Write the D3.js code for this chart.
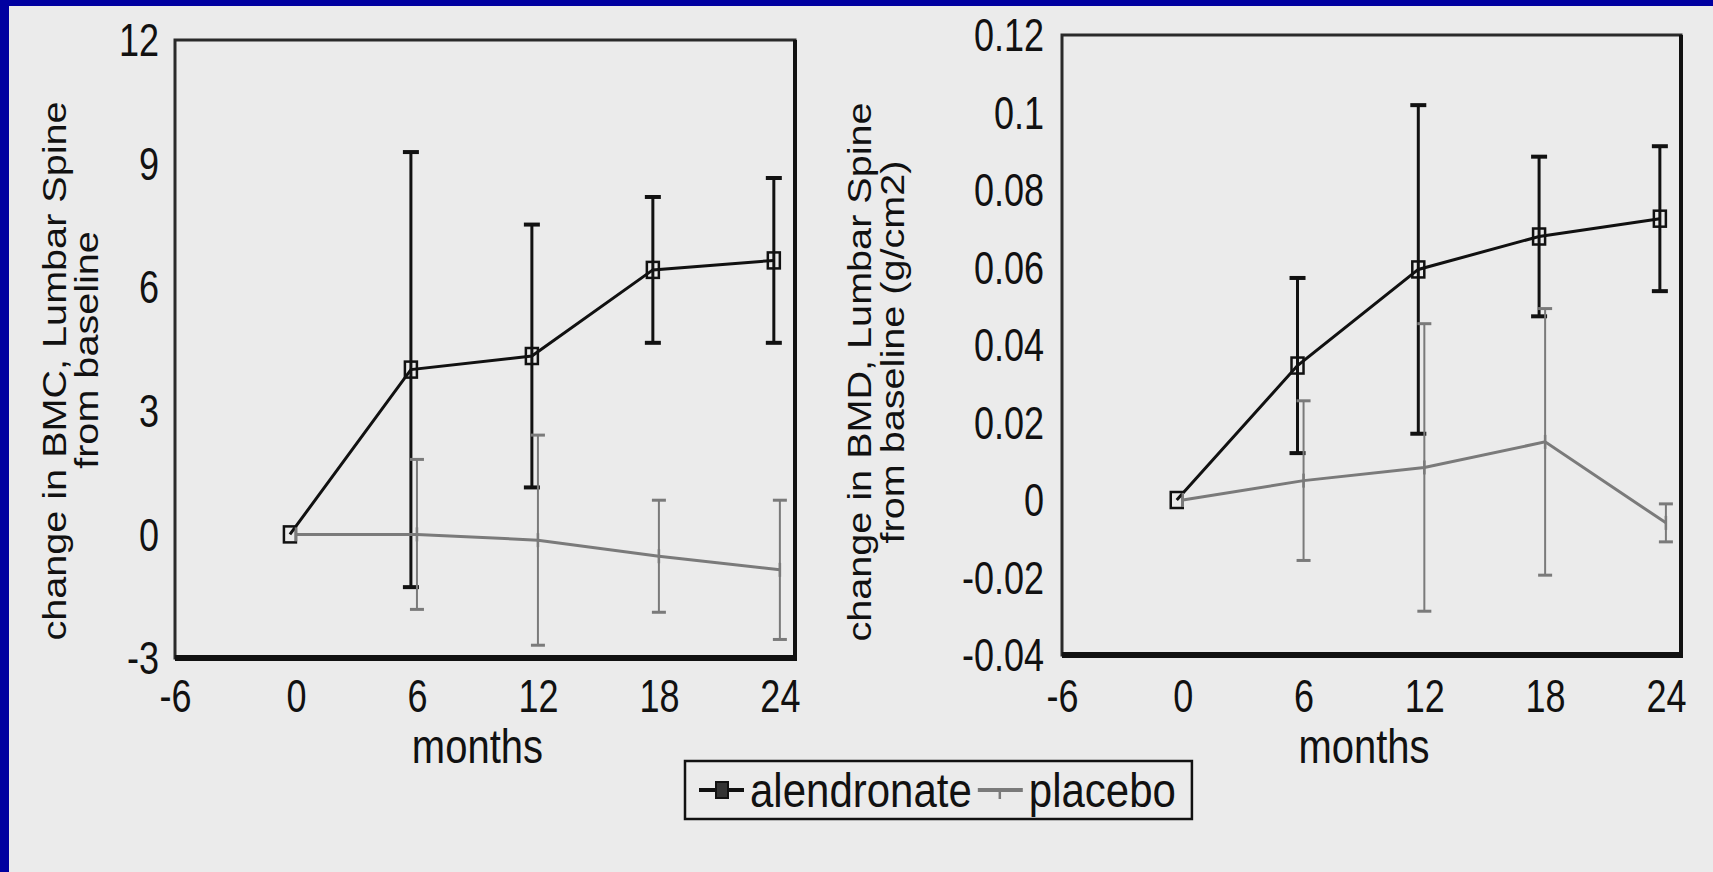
<!DOCTYPE html>
<html>
<head>
<meta charset="utf-8">
<script src="https://cdn.jsdelivr.net/npm/d3@7"></script>
<style>
  body { margin: 0; background: #ebebeb; }
  svg { display: block; font-family: "Liberation Sans", Arial, sans-serif; }
</style>
</head>
<body>
<div id="chart"></div>
<script>
// data (mean and error bar half-length)
var months = [0, 6, 12, 18, 24];
var xTicks = [-6, 0, 6, 12, 18, 24];

var bmcAlendronate    = [0, 4.0, 4.33, 6.42, 6.65];
var bmcAlendronateErr = [0, 5.28, 3.19, 1.77, 2.0];
var bmcPlacebo        = [0, 0.0, -0.14, -0.53, -0.86];
var bmcPlaceboErr     = [0, 1.82, 2.55, 1.36, 1.69];
var bmcTicks = [-3, 0, 3, 6, 9, 12];

var bmdAlendronate    = [0, 0.0347, 0.0595, 0.068, 0.0726];
var bmdAlendronateErr = [0, 0.0226, 0.0424, 0.0206, 0.0187];
var bmdPlacebo        = [0, 0.005, 0.0084, 0.015, -0.0059];
var bmdPlaceboErr     = [0, 0.0206, 0.0371, 0.0344, 0.0049];
var bmdTicks = [-0.04, -0.02, 0, 0.02, 0.04, 0.06, 0.08, 0.1, 0.12];

var seriesNames = ["alendronate", "placebo"];

var W = 1713, H = 872;
var svg = d3.select("#chart").append("svg").attr("width", W).attr("height", H);
svg.append("rect").attr("width", W).attr("height", H).attr("fill", "#ebebeb");
svg.append("rect").attr("width", W).attr("height", 6).attr("fill", "#0000a0");
svg.append("rect").attr("width", 9).attr("height", H).attr("fill", "#0000a0");

var styles = {
    alendronate: { color: "#111", width: 3, barWidth: 3, cap: 16, capWidth: 4, shift: -0.3 },
    placebo:     { color: "#7a7a7a", width: 3, barWidth: 2, cap: 14, capWidth: 3, shift: 0 }
};

var TEXT_SY = 1.28; // the source figure's lettering is tall and narrow

// move each label's position into a transform so it can be stretched vertically
function stretchText(sel, dy, sy) {
    sel.each(function() {
        var t = d3.select(this);
        var tx = +t.attr("x") || 0;
        t.attr("x", 0).attr("y", 0).attr("dy", null)
            .attr("dominant-baseline", "central")
            .attr("transform", "translate(" + tx + "," + dy + ") scale(1," + sy + ")");
    });
}

function drawPanel(p) {
    var x = d3.scaleLinear().domain([-6, 24.75]).range([p.x0, p.x1]);
    var y = d3.scaleLinear().domain(p.yDomain).range([p.y1, p.y0]);
    var g = svg.append("g");

    // y axis labels
    g.append("g")
        .attr("transform", "translate(" + p.x0 + ",0)")
        .call(d3.axisLeft(y).tickValues(p.yTicks).tickSize(0).tickPadding(p.yPad)
            .tickFormat(function(d) { return String(+d.toFixed(2)); }))
        .call(function(a) { a.select(".domain").remove(); })
        .selectAll("text")
            .style("font-size", "36px")
            .attr("fill", "#111")
            .call(stretchText, 0, TEXT_SY);

    // x axis labels
    g.append("g")
        .attr("transform", "translate(0," + p.y1 + ")")
        .call(d3.axisBottom(x).tickValues(xTicks).tickSize(0)
            .tickFormat(function(d) { return String(d); }))
        .call(function(a) { a.select(".domain").remove(); })
        .selectAll("text")
            .style("font-size", "36px")
            .attr("fill", "#111")
            .call(stretchText, 696 - p.y1, TEXT_SY);

    g.append("text")
        .attr("text-anchor", "middle")
        .attr("dominant-baseline", "central")
        .attr("transform", "translate(" + x(9) + ",746) scale(1,1.2)")
        .style("font-size", "40px")
        .attr("fill", "#111")
        .text("months");

    // rotated titles: stretched along the text, like the source
    p.titles.forEach(function(t) {
        g.append("text")
            .attr("transform", "translate(" + t.x + "," + t.cy + ") rotate(-90) scale(1.2,1)")
            .attr("text-anchor", "middle")
            .attr("dominant-baseline", "central")
            .style("font-size", "33px")
            .attr("fill", "#111")
            .text(t.text);
    });

    // plot frame
    g.append("rect")
        .attr("x", p.x0).attr("y", p.y0)
        .attr("width", p.x1 - p.x0).attr("height", p.y1 - p.y0)
        .attr("fill", "none").attr("stroke", "#2a2a2a").attr("stroke-width", 3);
    g.append("line")
        .attr("x1", p.x0).attr("x2", p.x1 + 2).attr("y1", p.y1).attr("y2", p.y1)
        .attr("stroke", "#111").attr("stroke-width", 6);
    g.append("line")
        .attr("x1", p.x1).attr("x2", p.x1).attr("y1", p.y0).attr("y2", p.y1)
        .attr("stroke", "#111").attr("stroke-width", 4);

    p.series.forEach(function(s) {
        var st = styles[s.name];
        var pts = months.map(function(m, i) {
            return { m: m + st.shift, v: s.values[i], e: s.errors[i] };
        });
        var withErr = pts.filter(function(d) { return d.e > 0; });

        g.selectAll(null).data(withErr).enter().append("line")
            .attr("x1", function(d) { return x(d.m); })
            .attr("x2", function(d) { return x(d.m); })
            .attr("y1", function(d) { return y(d.v + d.e); })
            .attr("y2", function(d) { return y(d.v - d.e); })
            .attr("stroke", st.color).attr("stroke-width", st.barWidth);
        [1, -1].forEach(function(sign) {
            g.selectAll(null).data(withErr).enter().append("line")
                .attr("x1", function(d) { return x(d.m) - st.cap / 2; })
                .attr("x2", function(d) { return x(d.m) + st.cap / 2; })
                .attr("y1", function(d) { return y(d.v + sign * d.e); })
                .attr("y2", function(d) { return y(d.v + sign * d.e); })
                .attr("stroke", st.color).attr("stroke-width", st.capWidth);
        });

        g.append("path")
            .datum(pts)
            .attr("fill", "none")
            .attr("stroke", st.color)
            .attr("stroke-width", st.width)
            .attr("d", d3.line().x(function(d) { return x(d.m); }).y(function(d) { return y(d.v); }));

        if (s.name === "alendronate") {
            g.selectAll(null).data(pts).enter().append("rect")
                .attr("x", function(d) { return x(d.m) - 6; })
                .attr("y", function(d) { return y(d.v) - 8; })
                .attr("width", 12).attr("height", 16)
                .attr("fill", "none").attr("stroke", st.color).attr("stroke-width", 2.5);
        } else {
            g.selectAll(null).data(pts).enter().append("line")
                .attr("x1", function(d) { return x(d.m); })
                .attr("x2", function(d) { return x(d.m); })
                .attr("y1", function(d) { return y(d.v) - 7; })
                .attr("y2", function(d) { return y(d.v) + 7; })
                .attr("stroke", st.color).attr("stroke-width", 2.5);
        }
    });
}

drawPanel({
    x0: 175, x1: 795, y0: 40, y1: 658, yPad: 16,
    yDomain: [-3, 12], yTicks: bmcTicks,
    titles: [
        { text: "change in BMC, Lumbar Spine", x: 55, cy: 371 },
        { text: "from baseline", x: 87, cy: 350 }
    ],
    series: [
        { name: "alendronate", values: bmcAlendronate, errors: bmcAlendronateErr },
        { name: "placebo", values: bmcPlacebo, errors: bmcPlaceboErr }
    ]
});

drawPanel({
    x0: 1062, x1: 1681, y0: 35, y1: 655, yPad: 18,
    yDomain: [-0.04, 0.12], yTicks: bmdTicks,
    titles: [
        { text: "change in BMD, Lumbar Spine", x: 860, cy: 372 },
        { text: "from baseline (g/cm2)", x: 893, cy: 352 }
    ],
    series: [
        { name: "alendronate", values: bmdAlendronate, errors: bmdAlendronateErr },
        { name: "placebo", values: bmdPlacebo, errors: bmdPlaceboErr }
    ]
});

// legend
var legend = svg.append("g").attr("transform", "translate(685,761)");
var box = legend.append("rect")
    .attr("height", 58)
    .attr("fill", "none").attr("stroke", "#111").attr("stroke-width", 2.5);
var cx = 14;
seriesNames.forEach(function(name) {
    var st = styles[name];
    legend.append("line")
        .attr("x1", cx).attr("x2", cx + 45).attr("y1", 29).attr("y2", 29)
        .attr("stroke", st.color).attr("stroke-width", 4);
    if (name === "alendronate") {
        legend.append("rect")
            .attr("x", cx + 17).attr("y", 21).attr("width", 12).attr("height", 16)
            .attr("fill", "#333").attr("stroke", st.color).attr("stroke-width", 2);
    } else {
        legend.append("line")
            .attr("x1", cx + 22).attr("x2", cx + 22).attr("y1", 29).attr("y2", 38)
            .attr("stroke", st.color).attr("stroke-width", 2.5);
    }
    var t = legend.append("text")
        .attr("dominant-baseline", "central")
        .attr("transform", "translate(" + (cx + 51) + ",29) scale(1,1.15)")
        .style("font-size", "42px")
        .attr("fill", "#111")
        .text(name);
    cx += 51 + t.node().getComputedTextLength() + 6;
});
box.attr("width", cx + 10);
</script>
</body>
</html>
